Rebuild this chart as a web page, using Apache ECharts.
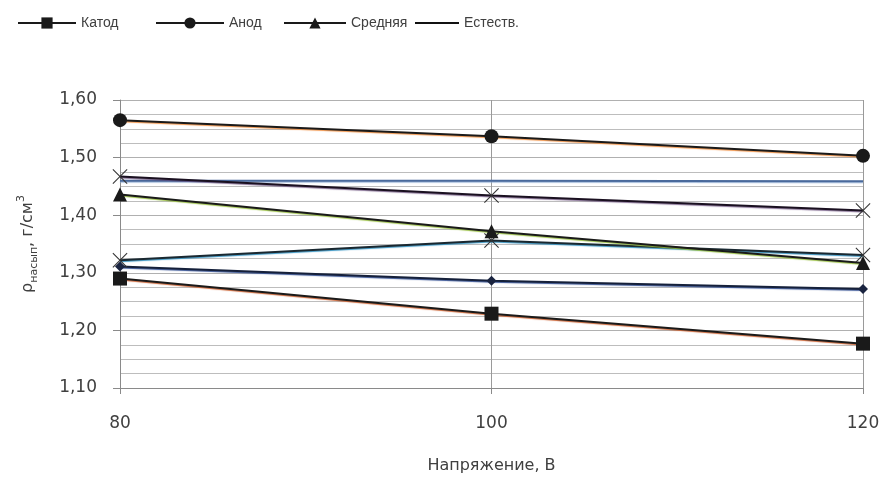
<!DOCTYPE html>
<html>
<head>
<meta charset="utf-8">
<script src="https://cdn.jsdelivr.net/npm/echarts@6/dist/echarts.min.js"></script>
<style>
html,body{margin:0;padding:0;background:#fff;}
#c{width:885px;height:478px;}
</style>
</head>
<body>
<div id="c"></div>
<script>
var categories = ['80', '100', '120'];
var yTicks = [1.10, 1.20, 1.30, 1.40, 1.50, 1.60];
var katod = [1.290, 1.229, 1.177];
var anod = [1.565, 1.537, 1.503];
var srednyaya = [1.436, 1.372, 1.317];
var estestv = [1.460, 1.460, 1.459];
var crossUpper = [1.467, 1.434, 1.408];
var crossLower = [1.322, 1.356, 1.331];
var diamondSer = [1.311, 1.286, 1.272];

var X_PATH = 'path://M0,1 L1,0 L10,9 L19,0 L20,1 L11,10 L20,19 L19,20 L10,11 L1,20 L0,19 L9,10 Z';
var txt = '#404040';
var legFont = {fontFamily: '"Liberation Sans", Arial, sans-serif', fontSize: 14, color: '#404040'};

function lineSer(name, data, symbol, size, lineColor, tint, symColor, width) {
  return {
    name: name, type: 'line', data: data,
    symbol: symbol, symbolSize: size, showSymbol: symbol !== 'none',
    lineStyle: {color: lineColor, width: width || 2, shadowColor: tint, shadowBlur: 1, shadowOffsetY: 1},
    itemStyle: {color: symColor || '#111', borderWidth: 0},
    emphasis: {disabled: true},
    animation: false
  };
}

var chart = echarts.init(document.getElementById('c'), null, {renderer: 'canvas'});
function leg(name, left, w, extra) {
  var o = {data: [name], left: left, top: 16, padding: 0, itemWidth: w, itemHeight: 14, itemGap: 5,
          textStyle: legFont, selectedMode: false};
  if (extra) { for (var k in extra) o[k] = extra[k]; }
  return o;
}
chart.setOption({
  backgroundColor: '#fff',
  animation: false,
  legend: [
    leg('Катод', 17, 58),
    leg('Анод', 155, 68),
    leg('Средняя', 283, 62),
    leg('Естеств.', 415, 44, {icon: 'rect', itemHeight: 2, top: 16, itemStyle: {color: '#111'}})
  ],
  grid: {left: 120, right: 22, top: 100, bottom: 90, outerBoundsMode: 'none', containLabel: false},
  xAxis: {
    type: 'category', data: categories, boundaryGap: false,
    name: 'Напряжение, В', nameLocation: 'middle', nameGap: 70,
    nameTextStyle: {fontFamily: 'DejaVu Sans', fontSize: 16, color: txt},
    axisLine: {show: true, lineStyle: {color: '#8a8a8a', width: 1}},
    axisTick: {show: true, length: 6, alignWithLabel: true, lineStyle: {color: '#8a8a8a'}},
    axisLabel: {fontFamily: 'DejaVu Sans', fontSize: 17, color: txt, margin: 27},
    splitLine: {show: true, lineStyle: {color: '#9a9a9a', width: 1}}
  },
  yAxis: {
    type: 'value', min: yTicks[0], max: yTicks[yTicks.length - 1], interval: 0.1,
    name: '{r|ρ}{s|насып}{n|, г/см}{p|3}', nameLocation: 'middle', nameGap: 80, nameRotate: 90,
    nameTextStyle: {
      color: txt, fontFamily: 'DejaVu Sans',
      rich: {
        r: {fontFamily: 'DejaVu Sans', fontSize: 16, color: txt, lineHeight: 24, verticalAlign: 'middle'},
        s: {fontFamily: 'DejaVu Sans', fontSize: 11, color: txt, lineHeight: 24, verticalAlign: 'bottom', padding: [8, 0, 0, 0]},
        n: {fontFamily: 'DejaVu Sans', fontSize: 16, color: txt, lineHeight: 24, verticalAlign: 'middle'},
        p: {fontFamily: 'DejaVu Sans', fontSize: 11, color: txt, lineHeight: 24, verticalAlign: 'top', padding: [0, 0, 8, 0]}
      }
    },
    axisLine: {show: true, lineStyle: {color: '#8a8a8a', width: 1}},
    axisTick: {show: true, length: 7, lineStyle: {color: '#8a8a8a'}},
    axisLabel: {fontFamily: 'DejaVu Sans', fontSize: 17, color: txt, margin: 23,
      formatter: function (v) { return v.toFixed(2).replace('.', ','); }},
    splitLine: {show: true, lineStyle: {color: '#b0b0b0', width: 1}},
    minorTick: {show: false, splitNumber: 4},
    minorSplitLine: {show: true, lineStyle: {color: '#bdbdbd', width: 1}}
  },
  series: [
    lineSer('Естеств.', estestv, 'none', 0, '#4a6a9c', 'rgba(140,170,210,0.8)', '#4a6a9c', 2),
    lineSer('Ряд5', crossUpper, X_PATH, 15, '#1a1020', 'rgba(90,60,110,0.7)', '#333'),
    lineSer('Ряд6', crossLower, X_PATH, 15, '#1a2830', 'rgba(40,140,190,0.9)', '#333'),
    lineSer('Ряд7', diamondSer, 'diamond', 10, '#15203a', 'rgba(40,70,140,0.9)', '#1a2440'),
    lineSer('Катод', katod, 'rect', 14, '#1a1a1a', 'rgba(200,90,40,0.9)', '#1a1a1a'),
    lineSer('Анод', anod, 'circle', 14, '#1a1a1a', 'rgba(240,140,60,0.9)', '#1a1a1a'),
    lineSer('Средняя', srednyaya, 'triangle', 14, '#1a1a1a', 'rgba(150,190,60,0.9)', '#1a1a1a')
  ]
});
</script>
</body>
</html>
